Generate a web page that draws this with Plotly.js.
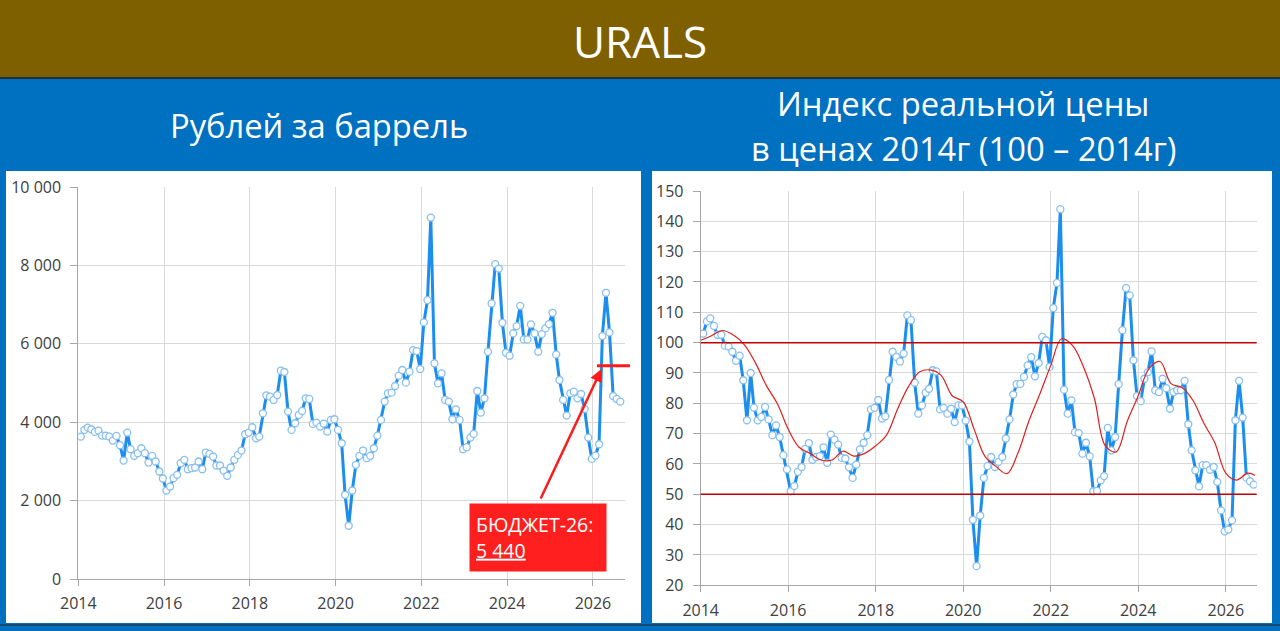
<!DOCTYPE html>
<html>
<head>
<meta charset="utf-8">
<script src="https://cdn.plot.ly/plotly-3.0.1.min.js"></script>
<style>
  html, body { margin: 0; padding: 0; background: #0070C0; }
  #chart { width: 1280px; height: 631px; }
</style>
</head>
<body>
<div id="chart"></div>
<script>
// monthly values, Jan 2014 .. Aug 2026
var rubPerBarrel = [
  3633, 3803, 3862, 3820, 3752, 3786, 3659, 3659, 3633, 3531, 3650, 3413, // 2014
  3022, 3735, 3311, 3141, 3209, 3336, 3209, 2971, 3141, 2997, 2742, 2564, // 2015
  2258, 2360, 2572, 2657, 2954, 3039, 2801, 2827, 2844, 2997, 2801, 3226, // 2016
  3192, 3124, 2895, 2895, 2767, 2632, 2844, 3039, 3166, 3277, 3693, 3735, // 2017
  3871, 3591, 3633, 4227, 4686, 4652, 4567, 4694, 5314, 5280, 4270, 3803, // 2018
  3973, 4185, 4287, 4610, 4593, 3956, 3990, 3888, 3965, 3761, 4058, 4075, // 2019
  3803, 3463, 2148, 1358, 2258, 2912, 3141, 3277, 3081, 3141, 3336, 3659, // 2020
  4058, 4525, 4737, 4754, 4924, 5187, 5331, 5009, 5289, 5840, 5815, 5357, // 2021
  6545, 7114, 9219, 5501, 4992, 5246, 4567, 4525, 4075, 4329, 4058, 3311, // 2022
  3362, 3608, 3701, 4796, 4245, 4610, 5798, 7029, 8031, 7920, 6536, 5772, // 2023
  5696, 6265, 6452, 6969, 6112, 6112, 6494, 6265, 5798, 6248, 6392, 6503, // 2024
  6791, 5730, 5076, 4567, 4168, 4737, 4779, 4610, 4720, 4338, 3608, 3064, // 2025
  3149, 3438, 6197, 7301, 6290, 4669, 4593, 4525                          // 2026
];

var realIndex = [
  103, 107, 108, 105.5, 102.6, 102.6, 99, 98.7, 97, 94, 95.7, 87.6,        // 2014
  74.4, 90, 78.6, 74.4, 75.5, 78.8, 74.7, 69.5, 72.7, 68.9, 62.9, 58.2,    // 2015
  51, 52.7, 57.4, 59, 65, 66.9, 61.4, 62.3, 62.6, 65.5, 60.4, 69.7,        // 2016
  68, 66.4, 62, 61.8, 58.9, 55.4, 59.8, 64.8, 67, 69.5, 78, 78.5,          // 2017
  81.1, 75, 75.7, 87.7, 97, 95.3, 93.8, 96.4, 109, 107.4, 86.8, 76.6,      // 2018
  79.3, 83.5, 84.8, 90.9, 90.5, 78, 78.5, 76.6, 78.2, 73.8, 79.3, 79.3,    // 2019
  74.3, 67.4, 41.6, 26.3, 43, 55.4, 59.3, 62.3, 59, 60.7, 62.3, 68.4,      // 2020
  74.7, 82.9, 86.3, 86.4, 88.7, 92.5, 95.2, 88.9, 93.3, 101.9, 100.8, 92,  // 2021
  111.4, 119.7, 144, 84.5, 76.6, 81, 70.5, 70.2, 63.4, 67, 62.5, 51,       // 2022
  51.1, 54.6, 56, 71.9, 64.5, 68.9, 86.3, 104.1, 118, 115.6, 94.2, 82.4,   // 2023
  80.7, 88.1, 90.3, 97.1, 84.3, 83.7, 88.1, 85, 78.2, 83.7, 84.3, 84.3,    // 2024
  87.4, 73.1, 64.5, 57.9, 52.6, 59.6, 59.6, 58.1, 59, 54.1, 44.7, 37.8,    // 2025
  38.4, 41.4, 74.4, 87.4, 75.3, 55.5, 54.3, 53.2                           // 2026
];

// smoothed trend of the real index (red thin line)
var trendMonths = [
  '2014-01', '2014-04', '2014-07', '2014-10', '2015-01', '2015-04', '2015-07', '2015-10',
  '2016-01', '2016-04', '2016-07', '2016-10', '2017-01', '2017-04', '2017-07', '2017-10',
  '2018-01', '2018-04', '2018-07', '2018-10', '2019-01', '2019-04', '2019-07', '2019-10',
  '2020-01', '2020-04', '2020-07', '2020-10', '2021-01', '2021-04', '2021-07', '2021-10',
  '2022-01', '2022-04', '2022-07', '2022-10', '2023-01', '2023-04', '2023-07', '2023-10',
  '2024-01', '2024-04', '2024-07', '2024-10', '2025-01', '2025-04', '2025-07', '2025-10',
  '2026-01', '2026-04', '2026-07', '2026-09'
];
var trendValues = [
  100.8, 102.3, 104, 102.5, 99.3, 93.5, 86, 80,
  71.5, 65.5, 63.5, 61.3, 61.3, 64.2, 62.6, 63.5,
  66, 69.5, 78, 85.5, 90.3, 91, 89.2, 82.5,
  80.5, 71.5, 62.5, 59.2, 56.8, 63.5, 74, 83,
  92.5, 101.3, 99.1, 92, 81.5, 66, 64, 74,
  82.5, 91.5, 93.8, 86.5, 85.2, 81, 73.5, 67,
  57, 54.7, 57, 56.3
];

var bandLevels = [100, 50];
var budget26 = 5440;
var budgetLabel = 'БЮДЖЕТ-26:';
var budgetText = '5 440';

var mainTitle = 'URALS';
var leftTitle = 'Рублей за баррель';
var rightTitle1 = 'Индекс реальной цены';
var rightTitle2 = 'в ценах 2014г (100 – 2014г)';

var W = 1280;
var H = 631;
var FONT = 'Open Sans, Noto Sans, sans-serif';
var BLUE = '#1B8EEE';
var RED = '#E0201C';

function px(x) { return x / W; }
function py(y) { return 1 - y / H; }

function month_dates(startYear, count, day) {
  var out = [];
  for (var i = 0; i < count; i++) {
    var y = startYear + Math.floor(i / 12);
    var m = (i % 12) + 1;
    out.push(y + '-' + (m < 10 ? '0' + m : m) + '-' + day);
  }
  return out;
}

function date_axis(domain, anchor, end) {
  return {
    domain: domain,
    anchor: anchor,
    type: 'date',
    range: ['2014-01-01', end],
    tick0: '2014-01-01',
    dtick: 'M24',
    tickformat: '%Y',
    showgrid: true,
    gridcolor: '#D9D9D9',
    gridwidth: 1,
    showline: true,
    linecolor: '#A6A6A6',
    linewidth: 1,
    ticks: 'outside',
    ticklen: 6,
    tickcolor: '#A6A6A6',
    ticklabelstandoff: 4,
    zeroline: false,
    fixedrange: true,
    tickfont: { family: FONT, size: 16, color: '#404040' }
  };
}

function value_axis(domain, anchor, range, dtick) {
  return {
    domain: domain,
    anchor: anchor,
    range: range,
    dtick: dtick,
    tickformat: ',d',
    showgrid: true,
    gridcolor: '#D9D9D9',
    gridwidth: 1,
    showline: true,
    linecolor: '#A6A6A6',
    linewidth: 1,
    ticks: 'outside',
    ticklen: 7,
    tickcolor: '#A6A6A6',
    ticklabelstandoff: 6,
    zeroline: false,
    fixedrange: true,
    tickfont: { family: FONT, size: 16, color: '#404040' }
  };
}

function price_trace(x, y, xa, ya) {
  return {
    x: x,
    y: y,
    xaxis: xa,
    yaxis: ya,
    type: 'scatter',
    mode: 'lines+markers',
    line: { color: BLUE, width: 3 },
    marker: {
      size: 7,
      color: '#FFFFFF',
      line: { color: '#86BFF0', width: 1.3 }
    },
    hoverinfo: 'skip'
  };
}

function title_note(x, y, text, size) {
  return {
    xref: 'paper', yref: 'paper', x: x, y: y,
    xanchor: 'center', yanchor: 'middle',
    text: text, showarrow: false,
    font: { family: FONT, size: size, color: '#FFFFFF' }
  };
}

var pointDates = month_dates(2014, rubPerBarrel.length, '22');
var trendDates = trendMonths.map(function (m) { return m + '-01'; });

var traces = [
  price_trace(pointDates, rubPerBarrel, 'x', 'y'),
  price_trace(pointDates, realIndex, 'x2', 'y2'),
  {
    x: trendDates,
    y: trendValues,
    xaxis: 'x2',
    yaxis: 'y2',
    type: 'scatter',
    mode: 'lines',
    line: { color: RED, width: 1.2, shape: 'spline', smoothing: 1 },
    hoverinfo: 'skip'
  }
];

var shapes = [
  // header band
  { type: 'rect', xref: 'paper', yref: 'paper', x0: 0, x1: 1, y0: py(77), y1: 1,
    fillcolor: '#7F6000', line: { width: 0 }, layer: 'below' },
  { type: 'line', xref: 'paper', yref: 'paper', x0: 0, x1: 1, y0: py(78), y1: py(78),
    line: { color: '#1F2F44', width: 2 }, layer: 'below' },
  // white panels
  { type: 'rect', xref: 'paper', yref: 'paper', x0: px(6), x1: px(641), y0: py(623), y1: py(171),
    fillcolor: '#FFFFFF', line: { width: 0 }, layer: 'below' },
  { type: 'rect', xref: 'paper', yref: 'paper', x0: px(652), x1: px(1272), y0: py(623), y1: py(171),
    fillcolor: '#FFFFFF', line: { width: 0 }, layer: 'below' },
  { type: 'line', xref: 'paper', yref: 'paper', x0: 0, x1: 1, y0: py(625), y1: py(625),
    line: { color: '#1F3A5A', width: 1.5 }, layer: 'below' },
  // budget level
  { type: 'line', xref: 'paper', yref: 'y', x0: px(597), x1: px(630), y0: budget26, y1: budget26,
    line: { color: '#FF1A1A', width: 3 } }
];

bandLevels.forEach(function (level) {
  shapes.push({
    type: 'line', xref: 'x2 domain', yref: 'y2', x0: 0, x1: 1, y0: level, y1: level,
    line: { color: '#C00000', width: 1.5 }, layer: 'above'
  });
});

var annotations = [
  title_note(0.5, py(41), mainTitle, 44),
  title_note(px(319), py(125), leftTitle, 32.7),
  title_note(px(963), py(103), rightTitle1, 32.7),
  title_note(px(963), py(148), rightTitle2, 32.7),
  // budget callout
  { xref: 'paper', yref: 'paper', x: px(469), y: py(503), xanchor: 'left', yanchor: 'top',
    text: budgetLabel + '<br><u>' + budgetText + '</u>', showarrow: false, align: 'left',
    width: 124, height: 55, borderpad: 6, bgcolor: '#FF1F1F',
    font: { family: FONT, size: 19.5, color: '#FFFFFF' } },
  { xref: 'paper', yref: 'paper', x: px(601.5), y: py(369), ax: -61.5, ay: 131, text: '',
    showarrow: true, arrowhead: 2, arrowsize: 1, arrowwidth: 2.5, arrowcolor: '#FF1A1A', standoff: 0 }
];

var layout = {
  width: W,
  height: H,
  margin: { l: 0, r: 0, t: 0, b: 0, pad: 0 },
  paper_bgcolor: '#0070C0',
  plot_bgcolor: 'rgba(0,0,0,0)',
  showlegend: false,
  separators: ', ',
  font: { family: FONT, color: '#404040' },
  xaxis: date_axis([px(78.3), px(625)], 'y', '2026-10-01'),
  yaxis: value_axis([py(579), py(187)], 'x', [0, 10000], 2000),
  xaxis2: date_axis([px(700.7), px(1256.7)], 'y2', '2026-09-16'),
  yaxis2: value_axis([py(585.3), py(191)], 'x2', [20, 150], 10),
  shapes: shapes,
  annotations: annotations
};

var config = {
  responsive: false,
  displayModeBar: false,
  staticPlot: true
};

Plotly.newPlot('chart', traces, layout, config);
</script>
</body>
</html>
